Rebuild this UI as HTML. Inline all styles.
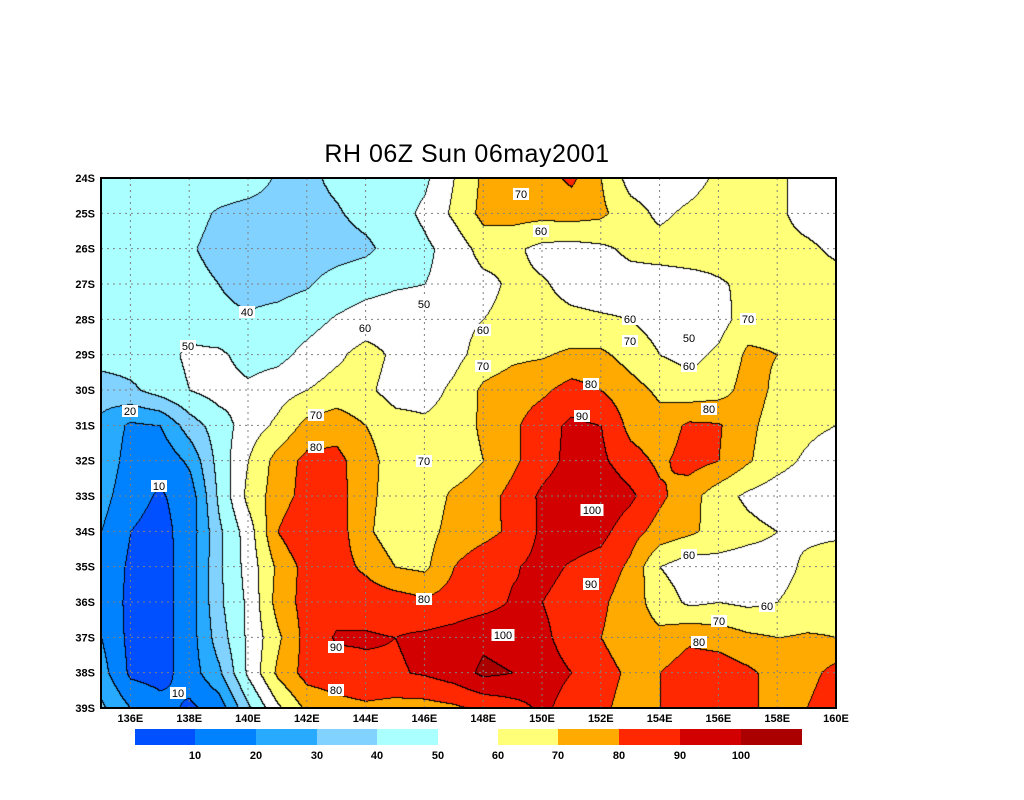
<!DOCTYPE html>
<html><head><meta charset="utf-8"><style>
body{margin:0;background:#fff;width:1024px;height:800px;position:relative;overflow:hidden;font-family:"Liberation Sans",sans-serif}
#title{position:absolute;left:0;width:934px;top:140px;text-align:center;font-size:25px;letter-spacing:0.5px}
canvas{position:absolute;left:101px;top:178px}
svg{position:absolute;left:0;top:0}
</style></head><body>
<div id="title">RH 06Z Sun 06may2001</div>
<canvas id="map" width="735" height="530"></canvas>
<svg id="ov" width="1024" height="800"></svg>
<script>
// lon 135..160 by 1 deg; lat 24S..39S by 1 deg
const lons=[135,136,137,138,139,140,141,142,143,144,145,146,147,148,149,150,151,152,153,154,155,156,157,158,159,160];
const lats=[24,25,26,27,28,29,30,31,32,33,34,35,36,37,38,39];
const rh24=[45,45,45,45,45,44,39,38,42,45,46,48,60,72,74,76,82,70,56,54,56,62,64,62,56,54];
const rh25=[45,45,45,43,39,37,37,37,39,43,46,52,62,73,74,73,74,72,64,58,62,65,65,62,56,54];
const rh26=[45,45,45,41,37,35,35,35,36,38,44,48,54,64,62,57,56,58,62,64,65,64,62,63,62,58];
const rh27=[45,45,45,43,40,37,37,39,44,47,49,50,53,57,62,61,57,56,56,55,56,59,62,64,64,64];
const rh28=[45,45,45,46,42,41,43,46,51,54,55,55,57,60,63,63,62,61,60,56,50,56,65,66,65,63];
const rh29=[45,45,46,52,52,46,47,53,58,64,58,54,57,64,68,69,72,72,66,60,57,62,72,70,64,63];
const rh30=[34,38,44,50,54,52,56,60,64,62,56,56,62,72,75,78,84,80,74,68,64,66,74,68,63,62];
const rh31=[28,18,20,35,45,55,62,73,76,70,64,62,64,72,78,86,92,90,77,74,82,81,72,66,63,60];
const rh32=[28,15,12,22,44,60,74,83,83,74,65,70,64,70,78,86,93,92,84,78,84,80,71,64,58,52];
const rh33=[24,13,9,14,42,63,75,84,84,73,65,64,72,76,83,92,96,98,92,82,74,64,58,54,52,52];
const rh34=[20,10,7,14,38,55,80,90,85,72,64,66,74,77,82,92,95,93,84,76,72,66,63,60,58,58];
const rh35=[18,8,6,15,38,54,72,84,84,78,70,68,80,86,89,93,89,86,78,60,54,56,55,56,62,66];
const rh36=[18,7,6,15,38,52,74,84,86,86,85,82,84,86,91,90,86,82,74,66,58,60,58,60,64,66];
const rh37=[20,7,6,15,35,52,68,84,91,91,90,92,94,98,96,92,86,80,74,72,78,76,72,70,71,70];
const rh38=[24,8,6,15,28,52,72,84,86,88,89,91,95,102,100,94,90,84,78,80,86,86,82,76,76,84];
const rh39=[32,20,14,8,14,38,58,72,76,78,76,76,78,82,86,92,86,82,76,80,86,86,82,76,80,88];
const rhRows=[rh24,rh25,rh26,rh27,rh28,rh29,rh30,rh31,rh32,rh33,rh34,rh35,rh36,rh37,rh38,rh39];
const levels=[10,20,30,40,50,60,70,80,90,100];
const lonTicks=[136,138,140,142,144,146,148,150,152,154,156,158,160];
const latTicks=[24,25,26,27,28,29,30,31,32,33,34,35,36,37,38,39];
const colors=["#0050ff","#0082ff","#28aaff","#82d2ff","#aaffff","#ffffff","#ffff78","#ffaa00","#ff2800","#d20000","#aa0000"];

const X0=101,X1=836,Y0=178,Y1=708;
const xOf=lon=>X0+(lon-lons[0])/(lons[lons.length-1]-lons[0])*(X1-X0);
const yOf=lat=>Y0+(lat-lats[0])/(lats[lats.length-1]-lats[0])*(Y1-Y0);
function val(px,py){
  const fx=px/(X1-X0)*(lons.length-1), fy=py/(Y1-Y0)*(lats.length-1);
  let i=Math.min(Math.floor(fx),lons.length-2), j=Math.min(Math.floor(fy),lats.length-2);
  const tx=fx-i, ty=fy-j;
  const a=rhRows[j][i],b=rhRows[j][i+1],c=rhRows[j+1][i],d=rhRows[j+1][i+1];
  return a*(1-tx)*(1-ty)+b*tx*(1-ty)+c*(1-tx)*ty+d*tx*ty;
}
function cls(v){let k=0;while(k<levels.length&&v>=levels[k])k++;return k;}
const cv=document.getElementById('map'),ctx=cv.getContext('2d');
const W=cv.width,H=cv.height,img=ctx.createImageData(W,H);
const rgb=colors.map(h=>[parseInt(h.slice(1,3),16),parseInt(h.slice(3,5),16),parseInt(h.slice(5,7),16)]);
const cl=new Uint8Array(W*H);
for(let y=0;y<H;y++)for(let x=0;x<W;x++)cl[y*W+x]=cls(val(x+0.5,y+0.5));
for(let y=0;y<H;y++)for(let x=0;x<W;x++){
  const k=cl[y*W+x];let c=rgb[k];
  if((x>0&&cl[y*W+x-1]!==k)||(y>0&&cl[(y-1)*W+x]!==k))c=[0,0,0];
  const o=(y*W+x)*4;img.data[o]=c[0];img.data[o+1]=c[1];img.data[o+2]=c[2];img.data[o+3]=255;
}
ctx.putImageData(img,0,0);

const NS='http://www.w3.org/2000/svg',ov=document.getElementById('ov');
function mk(t,a,txt){const e=document.createElementNS(NS,t);for(const k in a)e.setAttribute(k,a[k]);if(txt!==undefined)e.textContent=txt;ov.appendChild(e);return e;}
lonTicks.forEach(l=>{
  const x=xOf(l);
  if(l<160){const g=mk('line',{x1:x,x2:x,y1:Y0,y2:Y1,stroke:'#808080','stroke-dasharray':'2,4','stroke-width':1});
  
  }
  const t=mk('text',{x:x,y:722,'text-anchor':'middle','font-size':11,'font-weight':'bold','font-family':'Liberation Sans, sans-serif'},l+'E');
  
  
});
latTicks.forEach(l=>{
  const y=yOf(l);
  if(l>24&&l<39){const g=mk('line',{x1:X0,x2:X1,y1:y,y2:y,stroke:'#808080','stroke-dasharray':'2,4','stroke-width':1});
  
  }
  const t=mk('text',{x:95,y:y+4,'text-anchor':'end','font-size':11,'font-weight':'bold','font-family':'Liberation Sans, sans-serif'},l+'S');
  
  
});
const fr=mk('rect',{x:X0,y:Y0,width:X1-X0,height:Y1-Y0,fill:'none',stroke:'#000','stroke-width':2});


// colorbar
const cbLo=[135,195,256,317,377,498,558,619,680,741];
for(let k=0;k<colors.length;k++){
  if(k===5)continue;
  const idx=k<5?k:k-1;const x=cbLo[idx];const w=(k<5?[60,61,61,60,61]:[60,61,61,61,61])[k<5?k:k-6];
  const r=mk('rect',{x:x,y:729,width:w,height:16,fill:colors[k]});
  
  
}
const cbLab=[[195,'10'],[256,'20'],[317,'30'],[377,'40'],[438,'50'],[498,'60'],[558,'70'],[619,'80'],[680,'90'],[741,'100']];
cbLab.forEach(p=>{
  const t=mk('text',{x:p[0],y:759,'text-anchor':'middle','font-size':11,'font-weight':'bold','font-family':'Liberation Sans, sans-serif'},p[1]);
  
  
});
// contour labels
const cLab=[[247,312,'40'],[188,346,'50'],[424,304,'50'],[365,328,'60'],[483,330,'60'],[541,231,'60'],[521,194,'70'],[130,411,'20'],[159,486,'10'],[178,693,'10'],[316,415,'70'],[316,447,'80'],[424,461,'70'],[483,366,'70'],[591,384,'80'],[582,416,'90'],[630,319,'60'],[630,341,'70'],[689,338,'50'],[689,366,'60'],[748,319,'70'],[709,409,'80'],[592,510,'100'],[591,584,'90'],[424,599,'80'],[336,647,'90'],[336,690,'80'],[503,635,'100'],[689,555,'60'],[767,606,'60'],[719,621,'70'],[699,642,'80']];
cLab.forEach(p=>{
  const w=p[2].length*7+2;
  const r=mk('rect',{x:p[0]-w/2,y:p[1]-6,width:w,height:12,fill:'#fff'});
  
  
  const t=mk('text',{x:p[0],y:p[1]+4,'text-anchor':'middle','font-size':11,'font-family':'Liberation Sans, sans-serif'},p[2]);
  
  
});
</script>
</body></html>
